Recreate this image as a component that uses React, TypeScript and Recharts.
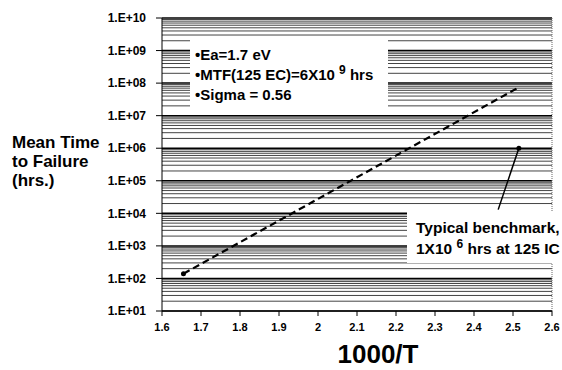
import React from 'react';
import { ComposedChart, Line, XAxis, YAxis, ReferenceLine, ReferenceDot } from 'recharts';

const xTicks = [1.6, 1.7, 1.8, 1.9, 2, 2.1, 2.2, 2.3, 2.4, 2.5, 2.6];
const yTicks = [1e1, 1e2, 1e3, 1e4, 1e5, 1e6, 1e7, 1e8, 1e9, 1e10];
const minorSteps = [2, 3, 4, 5, 6, 7, 8, 9];

// dashed fit line
const fitX = [1.655, 2.513];
const fitY = [140, 7.2e7];
const fitData = fitX.map((x, i) => ({ x, y: fitY[i] }));

// benchmark arrow: tail -> head
const arrowX = [2.462, 2.515];
const arrowY = [1.3e4, 1e6];

const FONT = '"Liberation Sans", Arial, sans-serif';

const minorLines = yTicks.slice(0, -1).flatMap((d) => minorSteps.map((m) => d * m));

const yFormatter = (v: number) => `1.E+${String(Math.round(Math.log10(v))).padStart(2, '0')}`;

const StartDot = (props: any) => {
  const { cx, cy, index } = props;
  if (index !== 0) return <g key={`d${index}`} />;
  return <circle key="d0" cx={cx} cy={cy} r={2.5} fill="#000" />;
};

const App = () => {
  const tickStyle = { fontSize: 12, fontWeight: 'bold', fill: '#000', fontFamily: FONT };
  return (
    <div style={{ position: 'absolute', left: 0, top: 0, width: 562, height: 370, background: '#fff', fontFamily: FONT }}>
      <ComposedChart width={562} height={370} data={fitData} margin={{ top: 18, right: 10, bottom: 34, left: 92 }}>
        <XAxis
          dataKey="x"
          type="number"
          domain={[1.6, 2.6]}
          ticks={xTicks}
          allowDataOverflow
          tickSize={5}
          tickMargin={7}
          height={25}
          stroke="#000"
          tick={{ ...tickStyle, fontSize: 11 }}
        />
        <YAxis
          type="number"
          scale="log"
          domain={[10, 1e10]}
          ticks={yTicks}
          allowDataOverflow
          tickFormatter={yFormatter}
          tickSize={6}
          tickMargin={10}
          width={70}
          stroke="#000"
          tick={tickStyle}
        />
        {minorLines.map((v) => (
          <ReferenceLine key={`m${v}`} y={v} stroke="#444" strokeWidth={1} />
        ))}
        {yTicks.map((v) => (
          <ReferenceLine key={`M${v}`} y={v} stroke="#000" strokeWidth={1.5} />
        ))}
        <ReferenceLine x={2.6} stroke="#666" strokeDasharray="1 1" />
        <ReferenceLine
          segment={[
            { x: arrowX[0], y: arrowY[0] },
            { x: arrowX[1], y: arrowY[1] },
          ]}
          stroke="#000"
          strokeWidth={1.5}
        />
        <ReferenceDot x={arrowX[1]} y={arrowY[1]} r={2.5} fill="#000" stroke="none" />
        <Line
          dataKey="y"
          type="linear"
          stroke="#000"
          strokeWidth={2.2}
          strokeDasharray="7 4"
          dot={StartDot}
          activeDot={false}
          isAnimationActive={false}
        />
      </ComposedChart>

      <div
        style={{
          position: 'absolute', left: 190, top: 39, width: 198, height: 71, background: '#fff',
          fontSize: 15, fontWeight: 'bold', lineHeight: '20px', paddingTop: 6, paddingLeft: 5, boxSizing: 'border-box',
          whiteSpace: 'nowrap',
        }}
      >
        <div>•Ea=1.7 eV</div>
        <div>
          •MTF(125 EC)=6X10 <sup style={{ fontSize: 12, lineHeight: 0 }}>9</sup> hrs
        </div>
        <div>•Sigma = 0.56</div>
      </div>

      <div
        style={{
          position: 'absolute', left: 407, top: 212, width: 155, height: 51, background: '#fff',
          fontSize: 15.5, fontWeight: 'bold', lineHeight: '21px', paddingTop: 5, paddingLeft: 9, boxSizing: 'border-box',
          whiteSpace: 'nowrap',
        }}
      >
        <div>Typical benchmark,</div>
        <div>
          1X10 <sup style={{ fontSize: 12, lineHeight: 0 }}>6</sup> hrs at 125 IC
        </div>
      </div>

      <div style={{ position: 'absolute', left: 12, top: 133, fontSize: 17, fontWeight: 'bold', lineHeight: '19px' }}>
        <div>Mean Time</div>
        <div>to Failure</div>
        <div>(hrs.)</div>
      </div>

      <div style={{ position: 'absolute', left: 0, width: 562, top: 339, textAlign: 'center', paddingLeft: 194, boxSizing: 'border-box', fontSize: 26, fontWeight: 'bold' }}>
        1000/T
      </div>
    </div>
  );
};

export default App;
